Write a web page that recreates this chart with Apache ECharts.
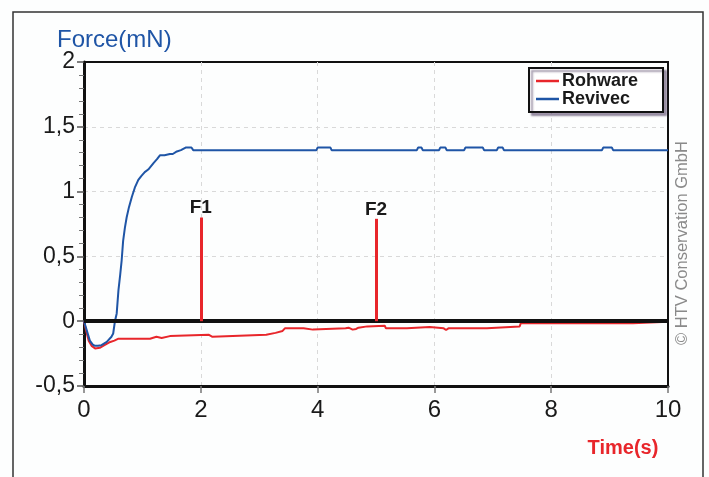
<!DOCTYPE html>
<html><head><meta charset="utf-8">
<script src="https://cdn.jsdelivr.net/npm/echarts@6/dist/echarts.min.js"></script>
<style>html,body{margin:0;padding:0;background:#fff}#c{width:709px;height:477px}</style>
</head><body><div id="c"></div>
<script>
// ---- data ----
const seriesNames = ['Rohware', 'Revivec'];

const revivecTime = [
  0, 0.02, 0.06, 0.10, 0.15, 0.19, 0.24, 0.30, 0.39, 0.47,
  0.50, 0.53, 0.56, 0.59, 0.62, 0.645, 0.67, 0.70, 0.73, 0.77,
  0.82, 0.87, 0.93, 0.98, 1.04, 1.10, 1.19, 1.25, 1.30, 1.38,
  1.47, 1.52, 1.59, 1.66, 1.70, 1.74, 1.84, 1.87, 3.98, 4.00,
  4.22, 4.24, 5.70, 5.72, 5.78, 5.80, 6.08, 6.10, 6.19, 6.21,
  6.51, 6.53, 6.83, 6.85, 7.07, 7.09, 7.17, 7.19, 8.87, 8.89,
  9.04, 9.06, 10
];
const revivecForce = [
  0, -0.03, -0.09, -0.15, -0.18, -0.19, -0.19, -0.185, -0.16, -0.12,
  -0.095, 0, 0.06, 0.24, 0.36, 0.47, 0.62, 0.72, 0.80, 0.88,
  0.96, 1.03, 1.09, 1.12, 1.15, 1.17, 1.22, 1.25, 1.28, 1.28,
  1.29, 1.29, 1.31, 1.32, 1.33, 1.34, 1.34, 1.32, 1.32, 1.34,
  1.34, 1.32, 1.32, 1.34, 1.34, 1.32, 1.32, 1.34, 1.34, 1.32,
  1.32, 1.34, 1.34, 1.32, 1.32, 1.34, 1.34, 1.32, 1.32, 1.34,
  1.34, 1.32, 1.32
];

const rohwareTime = [
  0, 0.04, 0.08, 0.13, 0.19, 0.27, 0.35, 0.45, 0.52, 0.59,
  1.13, 1.16, 1.24, 1.26, 1.33, 1.36, 1.47, 1.49, 2.14, 2.17,
  2.20, 2.23, 3.12, 3.14, 3.28, 3.30, 3.40, 3.44, 3.76, 3.78,
  3.92, 3.94, 4.48, 4.50, 4.53, 4.56, 4.60, 4.66, 4.70, 4.85,
  5.15, 5.17, 5.53, 5.55, 5.92, 5.94, 6.16, 6.20, 6.24, 6.90,
  6.92, 7.46, 7.48, 9.40, 9.42, 10
];
const rohwareForce = [
  0, -0.08, -0.15, -0.19, -0.21, -0.205, -0.185, -0.16, -0.15, -0.135,
  -0.135, -0.12, -0.12, -0.13, -0.13, -0.115, -0.115, -0.105, -0.105, -0.12,
  -0.12, -0.105, -0.105, -0.09, -0.09, -0.075, -0.075, -0.055, -0.055, -0.065,
  -0.065, -0.055, -0.055, -0.065, -0.05, -0.05, -0.065, -0.06, -0.05, -0.04,
  -0.035, -0.055, -0.055, -0.045, -0.045, -0.055, -0.055, -0.068, -0.055, -0.055,
  -0.04, -0.04, -0.015, -0.015, -0.005, -0.005
];

const markerNames = ['F1', 'F2'];
const markerTime = [2, 5];
const markerPeak = [0.80, 0.79];

const xMin = 0, xMax = 10, xStep = 2;
const yMin = -0.5, yMax = 2, yStep = 0.5;

const axisTitleY = 'Force(mN)';
const axisTitleX = 'Time(s)';
const copyrightText = '\u00A9 HTV Conservation GmbH';

// ---- chart ----
const RED = '#e8262b', BLUE = '#1f55a6';
const FONT = '"Liberation Sans", Arial, Helvetica, sans-serif';

const zip = (a, b) => a.map((t, i) => [t, b[i]]);

const chart = echarts.init(document.getElementById('c'), null, {renderer: 'canvas'});
chart.setOption({
  animation: false,
  backgroundColor: '#fdfefe',
  textStyle: {fontFamily: FONT},
  grid: {left: 84, right: 41, top: 62, bottom: 91, show: true, borderColor: '#111', borderWidth: 2, backgroundColor: 'transparent'},
  legend: {
    data: seriesNames,
    orient: 'vertical', left: 529, top: 68,
    icon: 'rect', itemWidth: 23, itemHeight: 2.5, itemGap: 0,
    textStyle: {fontSize: 18, fontWeight: 'bold', color: '#1a1a1a', fontFamily: FONT, padding: [0, 0, 0, -2]},
    borderColor: '#111', borderWidth: 2, padding: [4, 25, 4, 7],
    backgroundColor: '#fff',
    shadowColor: 'rgba(60,40,80,0.45)', shadowBlur: 2, shadowOffsetX: 3, shadowOffsetY: 3
  },
  xAxis: {
    type: 'value', min: xMin, max: xMax, interval: xStep,
    axisLine: {show: true, onZero: false, lineStyle: {color: '#111', width: 3}},
    axisTick: {show: true, length: 7, lineStyle: {color: '#777', width: 1.5}},
    axisLabel: {fontSize: 24, color: '#1a1a1a', margin: 12, fontFamily: FONT},
    splitLine: {show: true, showMinLine: false, showMaxLine: false, lineStyle: {color: '#d9d9d9', width: 1, type: [4, 4]}}
  },
  yAxis: {
    type: 'value', min: yMin, max: yMax, interval: yStep,
    axisLine: {show: true, onZero: false, lineStyle: {color: '#111', width: 3}},
    axisTick: {show: true, length: 7, lineStyle: {color: '#555', width: 1.5}},
    minorTick: {show: true, splitNumber: 5, length: 5, lineStyle: {color: '#777', width: 1}},
    axisLabel: {fontSize: 23, color: '#1a1a1a', margin: 9, fontFamily: FONT,
      formatter: v => String(v).replace('.', ',')},
    splitLine: {show: true, showMinLine: false, showMaxLine: false, lineStyle: {color: '#d9d9d9', width: 1, type: [4, 4]}}
  },
  series: [
    {
      name: 'zero', type: 'line', data: [], silent: true, z: 3,
      markLine: {silent: true, symbol: 'none', label: {show: false},
        lineStyle: {color: '#111', width: 4, type: 'solid'},
        data: [{yAxis: 0}]}
    },
    {
      name: seriesNames[0], type: 'line', showSymbol: false, symbol: 'none', z: 4,
      color: RED, lineStyle: {color: RED, width: 2},
      data: zip(rohwareTime, rohwareForce)
    },
    {
      name: seriesNames[1], type: 'line', showSymbol: false, symbol: 'none', z: 4,
      color: BLUE, lineStyle: {color: BLUE, width: 2},
      data: zip(revivecTime, revivecForce)
    },
    {
      name: 'markers', type: 'line', data: [], silent: true, z: 5,
      markLine: {silent: true, symbol: 'none',
        lineStyle: {color: RED, width: 3, type: 'solid'},
        label: {show: true, position: 'end', distance: 0, formatter: '{b}',
          fontSize: 19, fontWeight: 'bold', color: '#1a1a1a', fontFamily: FONT},
        data: markerTime.map((t, i) => [
          {coord: [t, 0], name: markerNames[i]},
          {coord: [t, markerPeak[i]]}
        ])}
    }
  ],
  graphic: [
    {type: 'rect', silent: true, z: -1, shape: {x: 13, y: 12, width: 690, height: 480},
      style: {fill: 'none', stroke: '#333', lineWidth: 1.5}},
    {type: 'text', silent: true, x: 57, y: 40,
      style: {text: axisTitleY, font: '24px ' + FONT, fill: BLUE, textAlign: 'left', textVerticalAlign: 'middle', align: 'left', verticalAlign: 'middle'}},
    {type: 'text', silent: true, x: 623, y: 448,
      style: {text: axisTitleX, font: 'bold 20px ' + FONT, fill: RED, textAlign: 'center', textVerticalAlign: 'middle', align: 'center', verticalAlign: 'middle'}},
    {type: 'text', silent: true, x: 682, y: 243, rotation: Math.PI / 2,
      style: {text: copyrightText, font: '16.5px ' + FONT, fill: '#8a8a8a', textAlign: 'center', textVerticalAlign: 'middle', align: 'center', verticalAlign: 'middle'}}
  ]
});
</script>
</body></html>
